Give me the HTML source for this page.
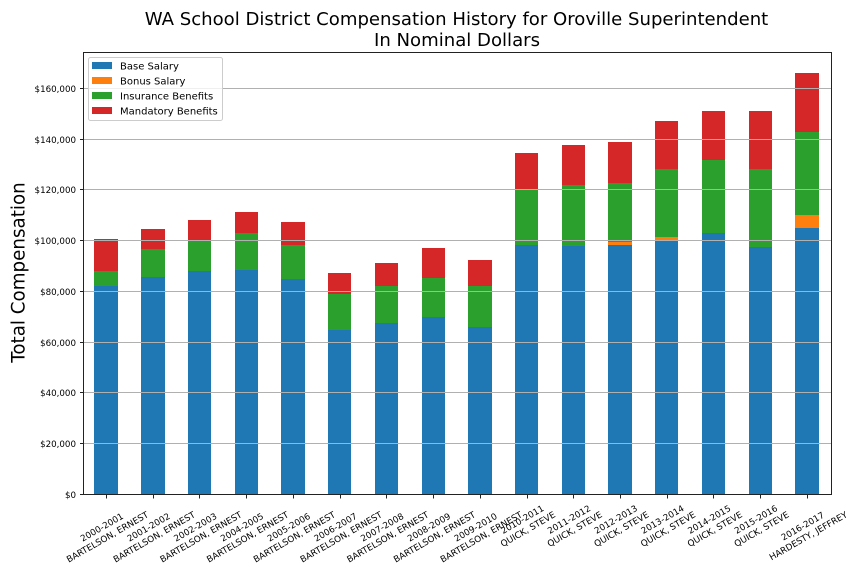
<!DOCTYPE html>
<html lang="en">
<head>
<meta charset="utf-8">
<title>WA School District Compensation History</title>
<style>
html,body{margin:0;padding:0;background:#fff;width:864px;height:576px;overflow:hidden}
svg{display:block}
text{font-family:"DejaVu Sans","Liberation Sans",sans-serif;fill:#000}
</style>
</head>
<body>
<svg id="chart" xmlns="http://www.w3.org/2000/svg" width="864" height="576" viewBox="0 0 864 576">
  <rect x="0" y="0" width="864" height="576" fill="#fff"/>
  <g id="bars"></g>
  <g id="grid"></g>
  <g id="yticks"></g>
  <g id="xticks"></g>
  <rect x="83.5" y="52.5" width="748" height="442" fill="none" stroke="#222" stroke-width="1" shape-rendering="crispEdges"/>
  <text x="456.5" y="25" font-size="18.09" text-anchor="middle">WA School District Compensation History for Oroville Superintendent</text>
  <text x="457" y="46" font-size="18.09" text-anchor="middle">In Nominal Dollars</text>
  <text transform="translate(24.5,272.5) rotate(-90)" font-size="18.3" text-anchor="middle">Total Compensation</text>
  <g id="legend">
    <rect x="88.5" y="57.5" width="134" height="63" rx="2" ry="2" fill="#fff" fill-opacity="0.8" stroke="#ccc" stroke-width="1"/>
  </g>
</svg>
<script>
const seasons = ["2000-2001","2001-2002","2002-2003","2004-2005","2005-2006","2006-2007","2007-2008","2008-2009","2009-2010","2010-2011","2011-2012","2012-2013","2013-2014","2014-2015","2015-2016","2016-2017"];
const superintendents = ["BARTELSON, ERNEST","BARTELSON, ERNEST","BARTELSON, ERNEST","BARTELSON, ERNEST","BARTELSON, ERNEST","BARTELSON, ERNEST","BARTELSON, ERNEST","BARTELSON, ERNEST","BARTELSON, ERNEST","QUICK, STEVE","QUICK, STEVE","QUICK, STEVE","QUICK, STEVE","QUICK, STEVE","QUICK, STEVE","HARDESTY, JEFFREY"];
const baseSalary = [82100,85600,88000,88500,84800,64900,67500,69900,65900,98200,98000,98200,99950,103000,97450,105000];
const bonusSalary = [0,0,0,0,0,0,0,0,0,0,0,1300,1450,0,0,5000];
const insuranceBenefits = [5900,11000,12000,14500,13400,14200,14600,15400,16200,21800,23900,23200,26800,28750,30750,32800];
const mandatoryBenefits = [12600,7900,8100,8300,9100,8100,9100,11800,10200,14500,15800,16200,18900,19250,22800,23200];
const yTickValues = [0,20000,40000,60000,80000,100000,120000,140000,160000];
const seriesNames = ["Base Salary","Bonus Salary","Insurance Benefits","Mandatory Benefits"];
const seriesColors = ["#1f77b4","#ff7f0e","#2ca02c","#d62728"];

const NS = "http://www.w3.org/2000/svg";
const seriesValues = [baseSalary, bonusSalary, insuranceBenefits, mandatoryBenefits];
const xScale = function (i) { return 106.15 + 46.72 * i; };
const yScale = function (v) { return 494.3 - v * 0.0025375; };
const barWidth = 23.36;
function make(tag, parent) {
  const el = document.createElementNS(NS, tag);
  parent.appendChild(el);
  return el;
}
function slug(s) { return s.toLowerCase().replace(/\s+/g, "-"); }
function money(v) { return "$" + v.toLocaleString("en-US"); }

const barsG = document.getElementById("bars");
seasons.forEach(function (season, i) {
  let cum = 0;
  const left = Math.round(xScale(i) - barWidth / 2);
  const right = Math.round(xScale(i) + barWidth / 2);
  seriesValues.forEach(function (vals, s) {
    const v = vals[i];
    const top = Math.round(yScale(cum + v));
    const bottom = Math.round(yScale(cum));
    cum += v;
    if (v <= 0) return;
    const r = make("rect", barsG);
    
    
    r.setAttribute("x", left);
    r.setAttribute("y", top);
    r.setAttribute("width", right - left);
    r.setAttribute("height", bottom - top);
    r.setAttribute("fill", seriesColors[s]);
    r.setAttribute("shape-rendering", "crispEdges");
  });
});

const gridG = document.getElementById("grid");
const yTicksG = document.getElementById("yticks");
yTickValues.forEach(function (v) {
  const y = Math.floor(yScale(v)) + 0.5;
  const g = make("line", gridG);
  
  
  g.setAttribute("x1", 83.5);
  g.setAttribute("x2", 831.5);
  g.setAttribute("y1", y);
  g.setAttribute("y2", y);
  g.setAttribute("stroke", "#b0b0b0");
  g.setAttribute("stroke-width", 1);
  g.setAttribute("shape-rendering", "crispEdges");
  const t = make("line", yTicksG);
  
  
  t.setAttribute("x1", 80);
  t.setAttribute("x2", 83.5);
  t.setAttribute("y1", y);
  t.setAttribute("y2", y);
  t.setAttribute("stroke", "#222");
  t.setAttribute("shape-rendering", "crispEdges");
  const l = make("text", yTicksG);
  
  
  l.setAttribute("x", 76);
  l.setAttribute("y", y + 3.5);
  l.setAttribute("font-size", "8.7");
  l.setAttribute("text-anchor", "end");
  l.textContent = money(v);
});

const xTicksG = document.getElementById("xticks");
seasons.forEach(function (season, i) {
  const x = Math.floor(xScale(i) + 0.4) + 0.5;
  const t = make("line", xTicksG);
  
  
  t.setAttribute("x1", x);
  t.setAttribute("x2", x);
  t.setAttribute("y1", 494.5);
  t.setAttribute("y2", 498.5);
  t.setAttribute("stroke", "#222");
  t.setAttribute("shape-rendering", "crispEdges");
  const g = make("g", xTicksG);
  
  
  const a = make("text", g);
  a.setAttribute("font-size", "8.8");
  a.setAttribute("text-anchor", "middle");
  a.setAttribute("y", -2.6);
  a.textContent = season;
  const b = make("text", g);
  b.setAttribute("font-size", "8.8");
  b.setAttribute("text-anchor", "middle");
  b.setAttribute("y", 8.6);
  b.textContent = superintendents[i];
  const w = Math.max(a.getComputedTextLength(), b.getComputedTextLength());
  const bboxH = w * 0.5 + 23 * 0.866;
  g.setAttribute("transform", "translate(" + (xScale(i) - 1.5) + "," + (499 + bboxH / 2) + ") rotate(-30)");
});

const legendG = document.getElementById("legend");
seriesNames.forEach(function (name, s) {
  const top = 62 + s * 15;
  const sw = make("rect", legendG);
  
  
  sw.setAttribute("x", 92);
  sw.setAttribute("y", top);
  sw.setAttribute("width", 20);
  sw.setAttribute("height", 7);
  sw.setAttribute("fill", seriesColors[s]);
  sw.setAttribute("shape-rendering", "crispEdges");
  const t = make("text", legendG);
  
  
  t.setAttribute("x", 120);
  t.setAttribute("y", top + 7.3);
  t.setAttribute("font-size", "10");
  t.textContent = name;
});
</script>
</body>
</html>
